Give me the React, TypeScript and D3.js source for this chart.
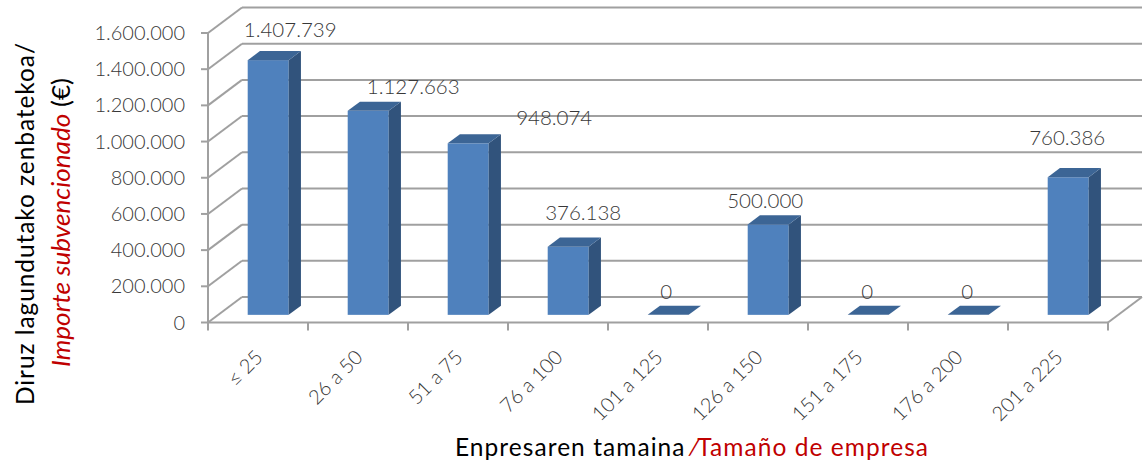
import React from 'react';
import * as d3 from 'd3';

const categories = ['≤ 25', '26 a 50', '51 a 75', '76 a 100', '101 a 125', '126 a 150', '151 a 175', '176 a 200', '201 a 225'];
const values = [1407739, 1127663, 948074, 376138, 0, 500000, 0, 0, 760386];
const yTicks = [0, 200000, 400000, 600000, 800000, 1000000, 1200000, 1400000, 1600000];

// label centre offsets relative to bar front centre / top (layout only)
const labelNudge: [number, number][] = [[22, -30], [45, -24], [86, -25], [15, -34], [-2, -23], [-3, -24], [-1, -23], [-1, -23], [-1, -39]];

const W = 1146, H = 462;
const locale = d3.formatLocale({ decimal: ',', thousands: '.', grouping: [3], currency: ['', '€'] });
const fmt = locale.format(',d');

const X0 = 208, X1 = 1108, Y0 = 322.5, YT = 33;
const DX = 34, DY = -25.5;
const F0 = 0.3, F1 = 0.66;

const GRID = '#a0a0a0';
const FRONT = '#4f81bd';
const SIDE = '#31537c';
const TOP = '#3c6595';
const TXT = '#383838';
const RED = '#c00000';
const FONT = 'Lato, "Open Sans", sans-serif';

export default function App() {
  const x = d3.scaleBand<string>().domain(categories).range([X0, X1]).paddingInner(0.59).paddingOuter(0.295);
  const y = d3.scaleLinear().domain([0, 1600000]).range([Y0, YT]);
  const bw = x.bandwidth();
  const step = x.step();
  const bdx = DX * (F1 - F0), bdy = DY * (F1 - F0);

  return (
    <svg width={W} height={H} style={{ position: 'absolute', left: 0, top: 0, background: '#fff' }} fontFamily={FONT}>
      {/* back wall gridlines */}
      {yTicks.map((t) => (
        <line key={'bg' + t} x1={X0 + DX} x2={X1 + DX} y1={y(t) + DY} y2={y(t) + DY} stroke={GRID} strokeWidth={2} />
      ))}
      {/* left wall diagonals */}
      {yTicks.map((t) => (
        <line key={'lw' + t} x1={X0} x2={X0 + DX} y1={y(t)} y2={y(t) + DY} stroke={GRID} strokeWidth={2} />
      ))}
      {/* floor front and right edges */}
      <line x1={X0} x2={X1} y1={Y0} y2={Y0} stroke={GRID} strokeWidth={2} />
      <line x1={X1} x2={X1 + DX} y1={Y0} y2={Y0 + DY} stroke={GRID} strokeWidth={2} />
      {/* y axis */}
      <line x1={X0} x2={X0} y1={YT} y2={Y0} stroke={GRID} strokeWidth={2} />
      {yTicks.map((t) => (
        <line key={'yt' + t} x1={X0 - 7} x2={X0} y1={y(t)} y2={y(t)} stroke={GRID} strokeWidth={2} />
      ))}
      {/* x ticks */}
      {d3.range(categories.length + 1).map((i) => (
        <line key={'xt' + i} x1={X0 + step * i} x2={X0 + step * i} y1={Y0} y2={Y0 + 8} stroke={GRID} strokeWidth={2} />
      ))}
      {/* y tick labels */}
      {yTicks.map((t) => (
        <text key={'yl' + t} x={185} y={y(t)} dy="0.35em" textAnchor="end" fontSize={20} fill={TXT} fontWeight={300}>
          {fmt(t)}
        </text>
      ))}
      {/* bars */}
      {categories.map((c, i) => {
        const v = values[i];
        const xl = (x(c) as number) + DX * F0;
        const base = Y0 + DY * F0;
        const top = y(v) + DY * F0;
        const topFace = `${xl},${top} ${xl + bdx},${top + bdy} ${xl + bw + bdx},${top + bdy} ${xl + bw},${top}`;
        if (v === 0) {
          return <polygon key={c} points={topFace} fill={TOP} />;
        }
        const side = `${xl + bw},${top} ${xl + bw + bdx},${top + bdy} ${xl + bw + bdx},${base + bdy} ${xl + bw},${base}`;
        return (
          <g key={c}>
            <rect x={xl} y={top} width={bw} height={base - top} fill={FRONT} />
            <polygon points={side} fill={SIDE} />
            <polygon points={topFace} fill={TOP} />
          </g>
        );
      })}
      {/* data labels */}
      {categories.map((c, i) => {
        const v = values[i];
        const cx = (x(c) as number) + DX * F0 + bw / 2 + labelNudge[i][0];
        const cy = y(v) + DY * F0 + labelNudge[i][1];
        return (
          <text key={'dl' + c} x={cx} y={cy} dy="0.35em" textAnchor="middle" fontSize={20.5} fill={TXT} fontWeight={300}>
            {fmt(v)}
          </text>
        );
      })}
      {/* x labels */}
      {categories.map((c) => {
        const cx = (x(c) as number) + bw / 2;
        return (
          <text key={'xl' + c} transform={`translate(${cx + 6},${Y0 + 36}) rotate(-45)`} textAnchor="end" fontSize={20} fill={TXT} fontWeight={300}>
            {c}
          </text>
        );
      })}
      {/* x title */}
      <text x={455} y={456} fontSize={24.5} fill="#000" textLength={473} lengthAdjust="spacing">
        <tspan>{'Enpresaren tamaina\u00a0'}</tspan>
        <tspan fill={RED}>{'⁄Tamaño de empresa'}</tspan>
      </text>
      {/* y title */}
      <text transform={`translate(34,224) rotate(-90)`} textAnchor="middle" fontSize={24.5} fill="#000" textLength={362} lengthAdjust="spacing">
        Diruz lagundutako zenbatekoa/
      </text>
      <text transform={`translate(70,222.5) rotate(-90)`} textAnchor="middle" fontSize={24.5} fill="#000" textLength={289} lengthAdjust="spacingAndGlyphs">
        <tspan fill={RED} fontStyle="italic">Importe subvencionado</tspan>
        <tspan>{'\u00a0(€)'}</tspan>
      </text>
    </svg>
  );
}
